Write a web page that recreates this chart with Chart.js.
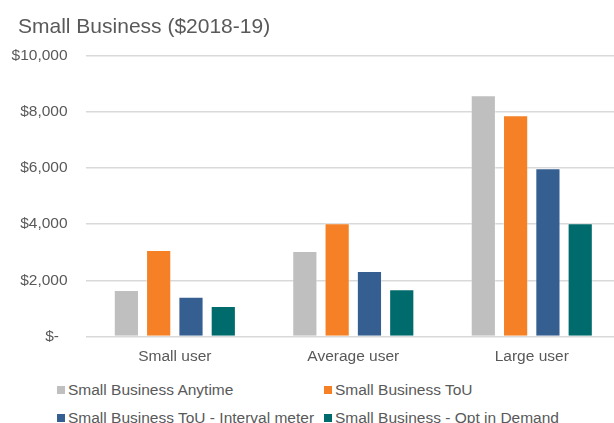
<!DOCTYPE html>
<html>
<head>
<meta charset="utf-8">
<script src="https://cdn.jsdelivr.net/npm/chart.js@4"></script>
<style>
  body { margin: 0; background: #fff; }
  #wrap { position: relative; width: 614px; height: 423px; overflow: hidden; }
  #chart { position: absolute; left: 0; top: 0; }
  #title {
    position: absolute; left: 18px; top: 13px; line-height: 25px; white-space: nowrap;
    font-family: "Liberation Sans", Arial, sans-serif; font-size: 21px; color: #595959;
  }
  #legend {
    position: absolute; left: 57px; top: 380px;
    display: grid; grid-template-columns: 267px 267px; row-gap: 9px;
    font-family: "Liberation Sans", Arial, sans-serif; font-size: 15.5px; color: #595959;
  }
  #legend .item { display: flex; align-items: center; height: 19px; white-space: nowrap; }
  #legend .box { width: 8px; height: 8px; margin-right: 3px; flex: none; }
</style>
</head>
<body>
<div id="wrap">
  <canvas id="chart" width="621" height="370"></canvas>
  <div id="title">Small Business ($2018-19)</div>
  <div id="legend"></div>
</div>
<script>
const categories = ["Small user", "Average user", "Large user"];
const seriesNames = [
  "Small Business Anytime",
  "Small Business ToU",
  "Small Business ToU - Interval meter",
  "Small Business - Opt in Demand",
];
const anytime = [1650, 3040, 8590];
const tou = [3080, 4030, 7880];
const intervalMeter = [1410, 2330, 5990];
const optInDemand = [1080, 1680, 4030];
const yTickLabels = ["$-  ", "$2,000", "$4,000", "$6,000", "$8,000", "$10,000"];

const colors = ["#bfbfbf", "#f58025", "#365f91", "#006b6c"];
const font = "'Liberation Sans', Arial, sans-serif";
const textColor = "#595959";

const datasets = [anytime, tou, intervalMeter, optInDemand].map((values, i) => ({
  label: seriesNames[i],
  data: values,
  backgroundColor: colors[i],
  borderColor: "rgba(255, 255, 255, 0.3)",
  borderWidth: 1,
  barPercentage: 0.78,
  categoryPercentage: 0.724,
}));

let ctx = document.querySelector("#chart").getContext("2d");

let chart = new Chart(ctx, {
  type: "bar",
  data: { labels: categories, datasets: datasets },
  options: {
    responsive: false,
    animation: false,
    layout: { padding: { left: 0, right: 0, top: 55.7, bottom: 0 } },
    plugins: {
      legend: { display: false },
      tooltip: { enabled: false },
    },
    scales: {
      x: {
        grid: { display: false, drawTicks: false },
        border: { display: false },
        ticks: {
          color: textColor,
          font: { family: font, size: 15.5 },
          padding: 11,
        },
        afterFit: (scale) => {
          scale.height = 33.6;
        },
      },
      y: {
        min: 0,
        max: 10000,
        grid: { color: "#d9d9d9", lineWidth: 1.5, drawTicks: false },
        border: { display: false },
        ticks: {
          stepSize: 2000,
          color: textColor,
          font: { family: font, size: 15.5 },
          padding: 18,
          callback: (value, index) => yTickLabels[index],
        },
        afterFit: (scale) => {
          scale.width = 85.6;
        },
      },
    },
  },
});

// legend laid out in two fixed columns below the plot
let legend = document.querySelector("#legend");
datasets.forEach((ds) => {
  let item = document.createElement("div");
  item.className = "item";
  let box = document.createElement("span");
  box.className = "box";
  box.style.background = ds.backgroundColor;
  let text = document.createElement("span");
  text.textContent = ds.label;
  item.appendChild(box);
  item.appendChild(text);
  legend.appendChild(item);
});
</script>
</body>
</html>
